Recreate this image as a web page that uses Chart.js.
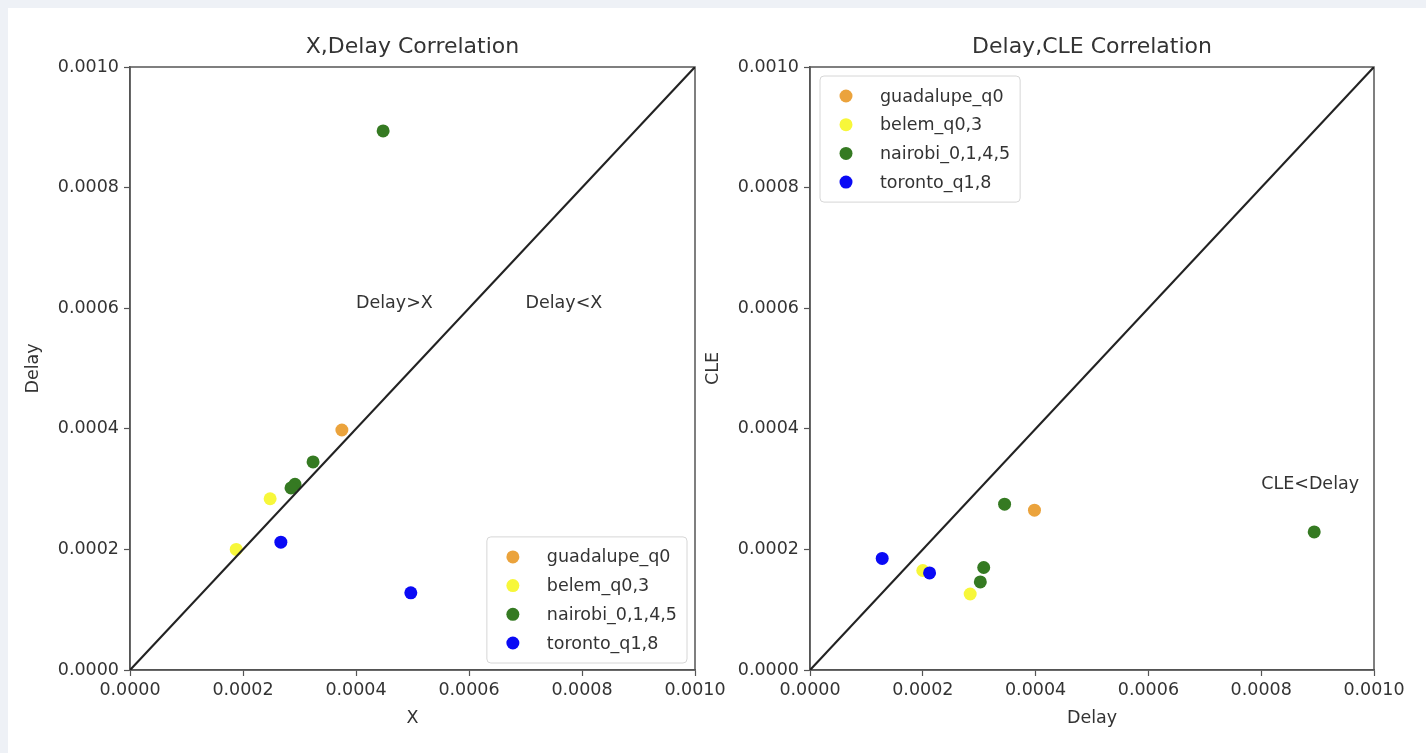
<!DOCTYPE html>
<html>
<head>
<meta charset="utf-8">
<script src="https://cdn.jsdelivr.net/npm/chart.js@4.4.1/dist/chart.umd.min.js"></script>
<style>
  html, body { margin: 0; padding: 0; }
  body { width: 1426px; height: 753px; background: #eef1f6; position: relative; overflow: hidden; }
  #panel { position: absolute; left: 8px; top: 8px; right: 0; bottom: 0; background: #ffffff; }
  canvas { position: absolute; top: 0; }
  #c1 { left: 0; }
  #c2 { left: 690px; }
</style>
</head>
<body>
<div id="panel"></div>
<canvas id="c1" width="760" height="753"></canvas>
<canvas id="c2" width="736" height="753"></canvas>
<script>
// ---------- data ----------
const seriesNames = ['guadalupe_q0', 'belem_q0,3', 'nairobi_0,1,4,5', 'toronto_q1,8'];

const guadalupeX     = [0.000375];
const guadalupeDelay = [0.000398];
const guadalupeCLE   = [0.000265];

const belemX     = [0.000248, 0.000188];
const belemDelay = [0.000284, 0.000200];
const belemCLE   = [0.000126, 0.000165];

const nairobiX     = [0.000448, 0.000324, 0.000292, 0.000285];
const nairobiDelay = [0.000894, 0.000345, 0.000308, 0.000302];
const nairobiCLE   = [0.000229, 0.000275, 0.000170, 0.000146];

const torontoX     = [0.000267, 0.000497];
const torontoDelay = [0.000212, 0.000128];
const torontoCLE   = [0.000161, 0.000185];

const diagonal = [0, 0.001];

const tickLabels = ['0.0000', '0.0002', '0.0004', '0.0006', '0.0008', '0.0010'];

const leftNotes  = ['Delay>X', 'Delay<X'];
const leftNoteX  = [0.0004, 0.0007];
const leftNoteY  = [0.0006, 0.0006];
const rightNotes = ['CLE<Delay'];
const rightNoteX = [0.0008];
const rightNoteY = [0.0003];

// ---------- styles ----------
const seriesColors = ['#eba33c', '#f7f73a', '#357a22', '#0a0af5'];
const FONT = "'DejaVu Sans', sans-serif";
const TXT = '#333333';
const FRAME = '#555555';

Chart.defaults.font.family = FONT;
Chart.defaults.color = TXT;

function pairs(xs, ys) { return xs.map((v, i) => ({ x: v, y: ys[i] })); }

function makeDatasets(xsList, ysList) {
  const ds = seriesNames.map((name, i) => ({
    label: name,
    data: pairs(xsList[i], ysList[i]),
    backgroundColor: seriesColors[i],
    borderWidth: 0,
    pointRadius: 6.5,
    pointHoverRadius: 6.5,
    order: 4 - i
  }));
  ds.push({
    type: 'line',
    label: 'diagonal',
    data: pairs(diagonal, diagonal),
    borderColor: '#222222',
    borderWidth: 2.2,
    pointRadius: 0,
    showLine: true,
    fill: false,
    order: 0
  });
  return ds;
}

const framePlugin = {
  id: 'frame',
  beforeDatasetsDraw(chart) {
    const a = chart.chartArea, ctx = chart.ctx;
    ctx.save();
    ctx.strokeStyle = FRAME;
    ctx.lineWidth = 1.5;
    ctx.strokeRect(a.left, a.top, a.right - a.left, a.bottom - a.top);
    ctx.restore();
  }
};

const notesPlugin = {
  id: 'notes',
  afterDatasetsDraw(chart, args, opts) {
    const ctx = chart.ctx;
    ctx.save();
    ctx.font = '17.5px ' + FONT;
    ctx.fillStyle = TXT;
    ctx.textAlign = 'left';
    ctx.textBaseline = 'alphabetic';
    (opts.texts || []).forEach((t, i) => {
      const px = chart.scales.x.getPixelForValue(opts.xs[i]);
      const py = chart.scales.y.getPixelForValue(opts.ys[i]);
      ctx.fillText(t, px, py);
    });
    ctx.restore();
  }
};

const boxLegend = {
  id: 'boxLegend',
  afterDatasetsDraw(chart, args, opts) {
    const ctx = chart.ctx, a = chart.chartArea;
    const items = chart.data.datasets.filter(d => d.type !== 'line');
    ctx.save();
    ctx.font = '17.5px ' + FONT;
    const tw = Math.max(...items.map(d => ctx.measureText(d.label).width));
    const rowGap = 28.7;
    const w = 60 + tw + 10;
    const h = 40 + rowGap * (items.length - 1);
    let left, top;
    if (opts.loc === 'lower right') { left = a.right - 8 - w; top = a.bottom - 7 - h; }
    else { left = a.left + 10; top = a.top + 9; }
    ctx.beginPath();
    ctx.roundRect(left, top, w, h, 4);
    ctx.fillStyle = 'rgba(255,255,255,0.85)';
    ctx.fill();
    ctx.strokeStyle = '#d6d6d6';
    ctx.lineWidth = 1;
    ctx.stroke();
    items.forEach((d, i) => {
      const cy = top + 20 + rowGap * i;
      ctx.beginPath();
      ctx.arc(left + 26, cy, 6.5, 0, Math.PI * 2);
      ctx.fillStyle = d.backgroundColor;
      ctx.fill();
      ctx.fillStyle = TXT;
      ctx.textAlign = 'left';
      ctx.textBaseline = 'middle';
      ctx.fillText(d.label, left + 60, cy + 1);
    });
    ctx.restore();
  }
};

function axis(titleText, isX, yTitlePad, fixedSize) {
  return {
    type: 'linear',
    min: 0,
    max: 0.001,
    ticks: {
      stepSize: 0.0002,
      font: { size: 17.5 },
      color: TXT,
      padding: isX ? 4 : 5,
      maxRotation: 0,
      autoSkip: false,
      callback: (v, i) => tickLabels[i]
    },
    grid: {
      drawOnChartArea: false,
      drawTicks: true,
      tickLength: 6,
      color: FRAME,
      tickWidth: 1.2
    },
    border: { display: true, color: FRAME, width: 1.5 },
    title: {
      display: true,
      text: titleText,
      font: { size: 17.5 },
      color: TXT,
      padding: isX ? { top: 0, bottom: 24.5 } : { top: yTitlePad, bottom: 0 }
    },
    afterFit: (s) => { if (isX) s.height = fixedSize; else s.width = fixedSize; }
  };
}

function makeChart(canvasId, title, xTitle, yTitle, xsList, ysList, yAxisWidth, yTitlePad, padRight, legendLoc, texts, nx, ny) {
  return new Chart(document.getElementById(canvasId), {
    type: 'scatter',
    data: { datasets: makeDatasets(xsList, ysList) },
    options: {
      responsive: false,
      animation: false,
      events: [],
      layout: { padding: { left: 0, right: padRight, top: 0, bottom: 0 } },
      scales: {
        x: axis(xTitle, true, 0, 83),
        y: axis(yTitle, false, yTitlePad, yAxisWidth)
      },
      plugins: {
        legend: { display: false },
        tooltip: { enabled: false },
        title: {
          display: true,
          text: title,
          fullSize: false,
          font: { size: 22, weight: 'normal' },
          color: TXT,
          padding: { top: 33.8, bottom: 6.8 }
        },
        boxLegend: { loc: legendLoc },
        notes: { texts: texts, xs: nx, ys: ny }
      }
    },
    plugins: [framePlugin, notesPlugin, boxLegend]
  });
}

makeChart('c1', 'X,Delay Correlation', 'X', 'Delay',
  [guadalupeX, belemX, nairobiX, torontoX],
  [guadalupeDelay, belemDelay, nairobiDelay, torontoDelay],
  130, 22.5, 65, 'lower right', leftNotes, leftNoteX, leftNoteY);

makeChart('c2', 'Delay,CLE Correlation', 'Delay', 'CLE',
  [guadalupeDelay, belemDelay, nairobiDelay, torontoDelay],
  [guadalupeCLE, belemCLE, nairobiCLE, torontoCLE],
  120, 12.5, 52, 'upper left', rightNotes, rightNoteX, rightNoteY);
</script>
</body>
</html>
